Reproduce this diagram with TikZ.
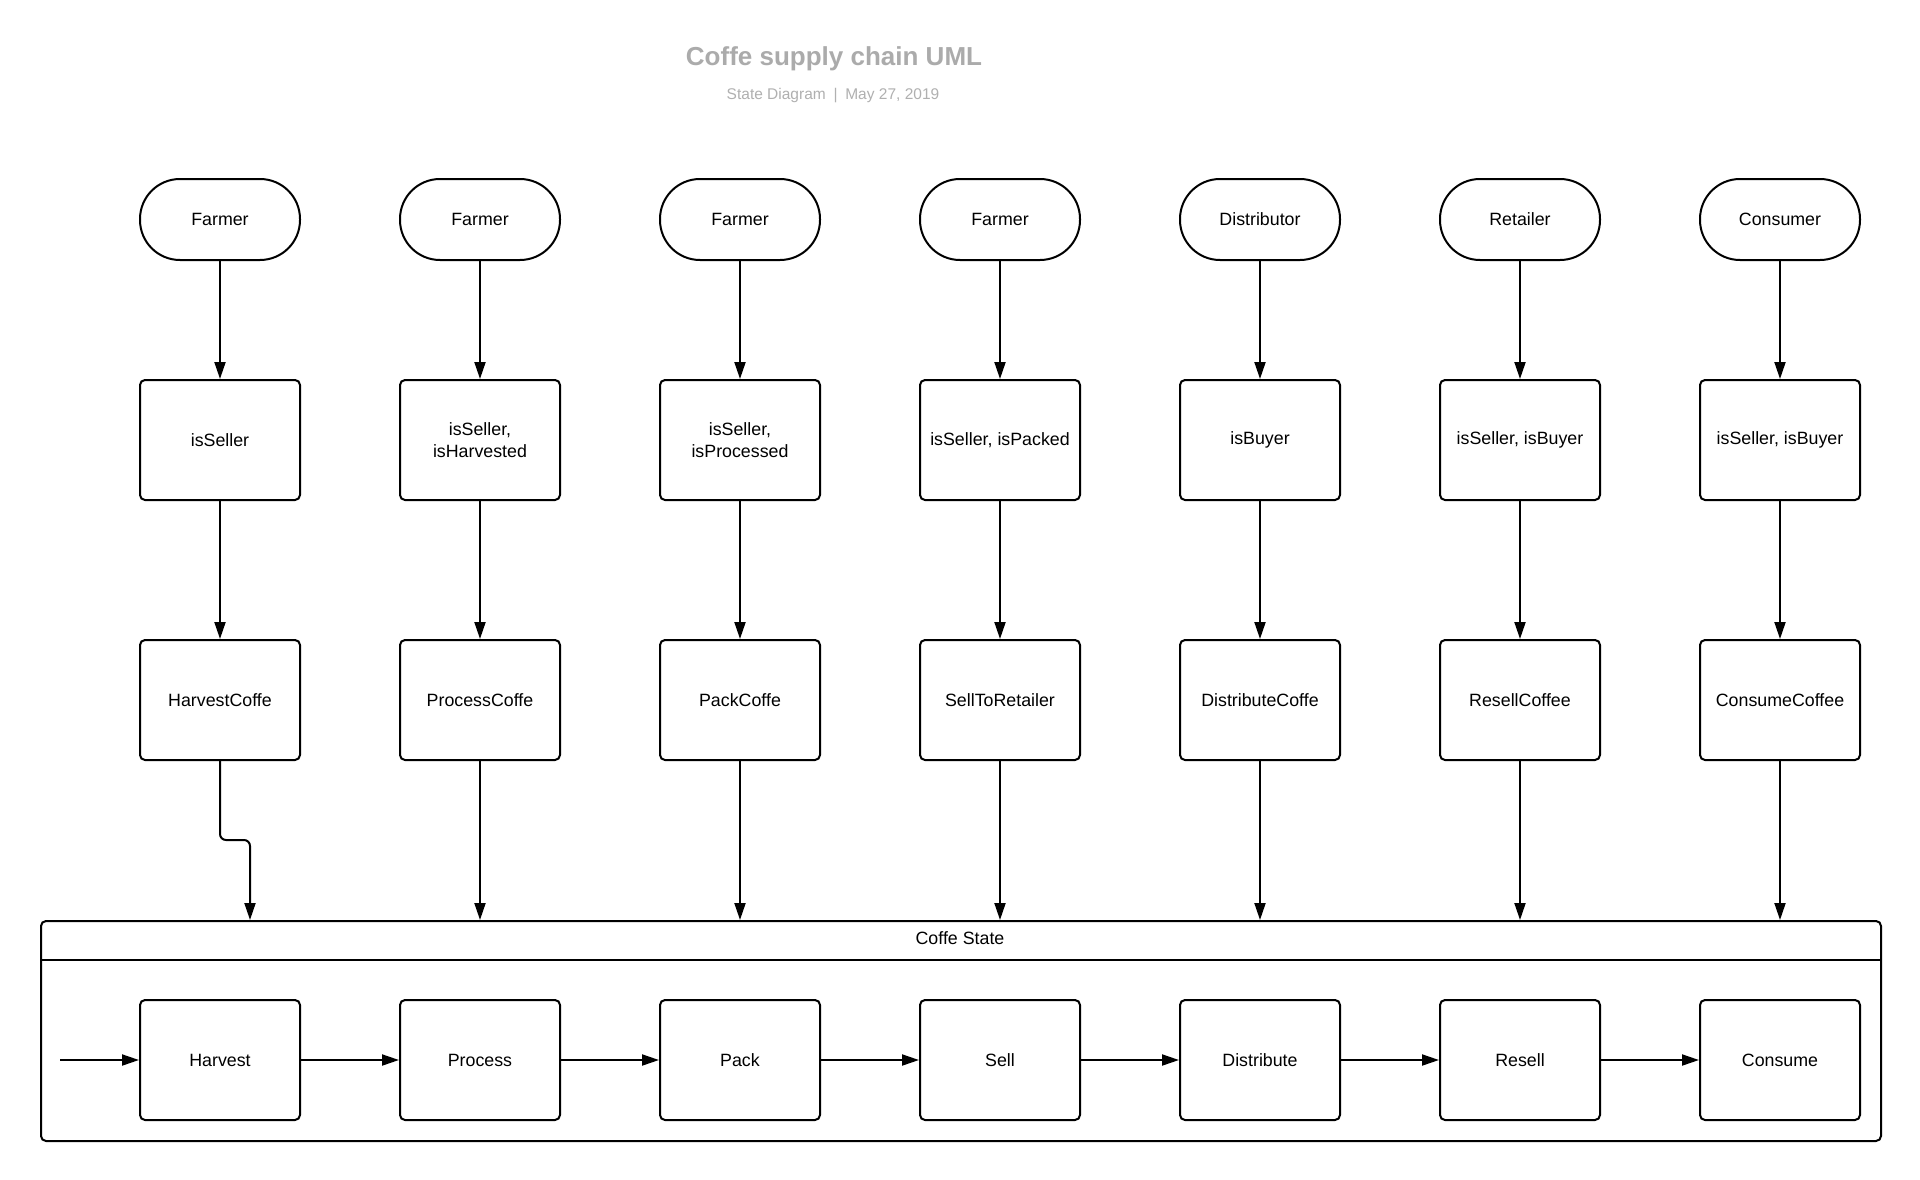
\documentclass[tikz,border=0pt]{standalone}
\usepackage{fontspec}
\setmainfont{Liberation Sans}
\usetikzlibrary{arrows.meta}
\definecolor{titlegray}{HTML}{ABABAB}
\definecolor{subgray}{HTML}{B0B0B0}
\tikzset{
  base/.style={draw=black, line width=2pt, fill=white, minimum width=160pt,
    font=\fontsize{17.8}{22}\selectfont, align=center, inner sep=2pt},
  actor/.style={base, minimum height=81pt, rounded corners=40pt},
  statebox/.style={base, minimum height=120pt, rounded corners=5pt},
  arr/.style={draw=black, line width=2pt, -{Triangle[length=17pt,width=11pt]}},
}
\begin{document}
\begin{tikzpicture}[x=1pt,y=-1pt]
\useasboundingbox[fill=white] (0,0) rectangle (1920,1180);
\node[font=\bfseries\fontsize{26}{30}\selectfont, text=titlegray] (title) at (834,58.5) {Coffe supply chain UML};
\node[font=\fontsize{15.5}{18}\selectfont, text=subgray] (sub) at (833,95.5) {State Diagram\enspace|\enspace May 27, 2019};

% container
\node[draw=black, line width=2pt, rounded corners=5pt, minimum width=1840pt, minimum height=220pt,
      anchor=north west, inner sep=0pt] (state) at (40,920) {};
\coordinate (hl) at (40,960);
\coordinate (hr) at (1880,960);
\draw[line width=2pt] (hl) -- (hr);
\node[font=\fontsize{17.8}{22}\selectfont] (statetitle) at (960,938.5) {Coffe State};

\foreach \i/\a/\m/\b/\s in {
  0/Farmer/isSeller/HarvestCoffe/Harvest,
  1/Farmer/{isSeller,\\isHarvested}/ProcessCoffe/Process,
  2/Farmer/{isSeller,\\isProcessed}/PackCoffe/Pack,
  3/Farmer/{isSeller, isPacked}/SellToRetailer/Sell,
  4/Distributor/isBuyer/DistributeCoffe/Distribute,
  5/Retailer/{isSeller, isBuyer}/ResellCoffee/Resell,
  6/Consumer/{isSeller, isBuyer}/ConsumeCoffee/Consume}{
  \pgfmathsetmacro{\cx}{220+260*\i}
  \node[actor] (a\i) at (\cx,219.5) {\a};
  \node[statebox] (m\i) at (\cx,440) {\m};
  \node[statebox] (b\i) at (\cx,700) {\b};
  \node[statebox] (s\i) at (\cx,1060) {\s};
  \draw[arr] (a\i.south) -- (m\i.north);
  \draw[arr] (m\i.south) -- (b\i.north);
}
% connectors to container
\coordinate (k0) at (250,920);
\draw[arr, rounded corners=6pt] (b0.south) -- ++(0,79) -| (k0);
\foreach \i in {1,...,6}{
  \draw[arr] (b\i.south) -- (b\i.south |- state.north);
}
% inner state chain
\coordinate (init) at (60,1060);
\draw[arr] (init) -- (s0.west);
\foreach \i/\j in {0/1,1/2,2/3,3/4,4/5,5/6}{
  \draw[arr] (s\i.east) -- (s\j.west);
}
\end{tikzpicture}
\end{document}
